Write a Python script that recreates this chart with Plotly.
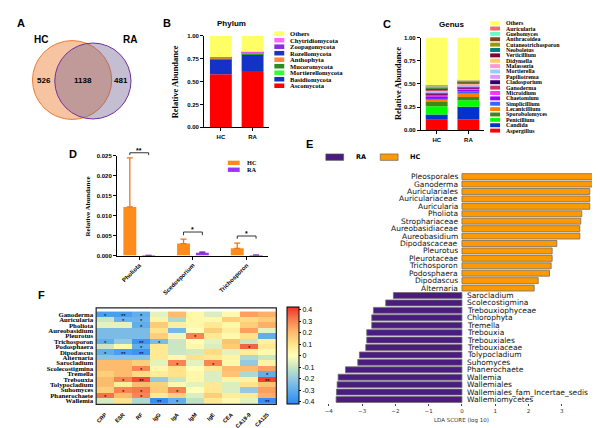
import plotly.graph_objects as go
import numpy as np

W, H = 600, 428
SANS = "Liberation Sans"
SERIF = "Liberation Serif"
MPL = "DejaVu Sans"


def fx(p):
    return p / W


def fy(p):
    return 1 - p / H


# ---------------- data ----------------
# A: Venn
venn_labels = ["HC", "RA"]
venn_counts = [526, 1138, 481]  # HC only, shared, RA only

# B: phylum composition
samples = ["HC", "RA"]
phylum_names = ["Ascomycota", "Basidiomycota", "Mortierellomycota", "Mucoromycota",
                "Anthophyta", "Rozellomycota", "Zoopagomycota", "Chytridiomycota", "Others"]
phylum_HC = [0.580, 0.165, 0.003, 0.010, 0.003, 0.003, 0.002, 0.002, 0.232]
phylum_RA = [0.615, 0.182, 0.005, 0.010, 0.003, 0.003, 0.003, 0.003, 0.176]
phylum_colors = ["#FF0000", "#1432C8", "#33FF33", "#2E8B22", "#FF8C33",
                 "#2233BB", "#8A2BE2", "#FF66FF", "#FFFF66"]

# C: genus composition
genus_names = ["Aspergillus", "Candida", "Penicillium", "Sporobolomyces", "Lecanicillium",
               "Simplicillium", "Chaetomium", "Microidium", "Ganoderma", "Cladosporium",
               "Papiliotrema", "Mortierella", "Malassezia", "Didymella", "Verticillium",
               "Neoboletus", "Cutaneotrichosporon", "Anthracoidea", "Guehomyces",
               "Auricularia", "Others"]
genus_HC = [0.115, 0.055, 0.090, 0.045, 0.035, 0.012, 0.015, 0.010, 0.012, 0.012,
            0.010, 0.008, 0.010, 0.008, 0.006, 0.008, 0.010, 0.006, 0.006, 0.012, 0.515]
genus_RA = [0.120, 0.135, 0.070, 0.035, 0.040, 0.020, 0.020, 0.012, 0.004, 0.015,
            0.010, 0.010, 0.008, 0.008, 0.005, 0.005, 0.008, 0.004, 0.008, 0.003, 0.460]
genus_colors = ["#FF0000", "#0033CC", "#00FF00", "#3A8A1A", "#FF8000",
                "#3366FF", "#9900FF", "#FF33FF", "#CC3366", "#330066",
                "#DD99FF", "#99CCFF", "#FF99CC", "#FFCC66", "#800040",
                "#008080", "#999900", "#8B4513", "#66FFCC", "#FF6666", "#FFFF66"]

# D: differential genera
d_genera = ["Pholiota", "Scedosporium", "Trichosporon"]
d_HC_mean = [0.0122, 0.0030, 0.0018]
d_HC_err = [0.0123, 0.0011, 0.0013]
d_RA_mean = [0.00003, 0.0007, 0.00008]
d_RA_err = [0.00003, 0.0002, 0.00004]
d_sig = ["**", "*", "*"]
d_bracket_top = [0.0258, 0.0059, 0.0049]
d_bracket_foot = [0.0252, 0.0051, 0.0042]

# E: LEfSe
lefse_HC_names = ["Pleosporales", "Ganoderma", "Auriculariales", "Auriculariaceae",
                  "Auricularia", "Pholiota", "Strophariaceae", "Aureobasidiaceae",
                  "Aureobasidium", "Dipodascaceae", "Pleurotus", "Pleurotaceae",
                  "Trichosporon", "Podosphaera", "Dipodascus", "Alternaria"]
lefse_HC_lda = [4.06, 3.99, 3.84, 3.84, 3.84, 3.60, 3.57, 3.54, 3.54, 2.85, 2.71,
                2.71, 2.68, 2.63, 2.29, 2.17]
lefse_RA_names = ["Sarocladium", "Scolecostigmina", "Trebouxiophyceae", "Chlorophyta",
                  "Tremella", "Trebouxia", "Trebouxiales", "Trebouxiaceae",
                  "Tolypocladium", "Suhomyces", "Phanerochaete", "Wallemia",
                  "Wallemiales", "Wallemiales_fam_Incertae_sedis", "Wallemiomycetes"]
lefse_RA_lda = [-2.06, -2.29, -2.66, -2.71, -2.71, -2.86, -2.86, -2.89, -3.08, -3.13,
                -3.50, -3.72, -3.75, -3.77, -3.78]
lda_ticks = [-4, -3, -2, -1, 0, 1, 2, 3, 4]

# F: correlation heatmap
F_rows = ["Ganoderma", "Auricularia", "Pholiota", "Aureobasidium", "Pleurotus",
          "Trichosporon", "Podosphaera", "Dipodascus", "Alternaria", "Sarocladium",
          "Scolecostigmina", "Tremella", "Trebouxia", "Tolypocladium", "Suhomyces",
          "Phanerochaete", "Wallemia"]
F_cols = ["CRP", "ESR", "RF", "IgG", "IgA", "IgM", "IgE", "CEA", "CA19-9", "CA125"]
F_vals = [
    [-0.35, -0.35, -0.30, -0.05, 0.20, 0.03, -0.07, 0.02, 0.25, 0.22],
    [-0.10, -0.28, -0.28, 0.04, -0.15, 0.03, 0.02, 0.15, 0.12, 0.16],
    [-0.05, -0.05, -0.30, 0.16, 0.06, 0.03, 0.08, 0.03, 0.15, 0.22],
    [-0.25, -0.25, -0.25, 0.10, -0.26, 0.00, 0.15, 0.06, 0.25, -0.05],
    [-0.25, -0.25, -0.25, 0.15, -0.03, 0.30, 0.08, 0.02, 0.10, -0.30],
    [-0.30, -0.20, -0.38, -0.25, -0.10, 0.00, -0.05, 0.18, -0.10, 0.05],
    [-0.10, 0.02, -0.30, 0.08, -0.10, 0.03, -0.07, 0.16, 0.35, 0.08],
    [-0.30, -0.35, -0.38, 0.08, -0.10, -0.08, 0.12, -0.05, 0.06, 0.02],
    [-0.22, -0.22, -0.22, 0.08, 0.02, 0.10, 0.08, 0.04, -0.15, -0.10],
    [0.20, 0.20, 0.15, -0.05, 0.30, -0.05, 0.30, 0.03, -0.20, 0.04],
    [0.20, 0.20, 0.30, 0.03, 0.10, 0.00, 0.08, 0.20, 0.20, 0.25],
    [0.15, 0.20, 0.12, 0.07, 0.10, 0.03, -0.07, 0.18, -0.15, -0.30],
    [0.20, 0.30, 0.38, -0.20, -0.10, 0.03, -0.07, 0.04, 0.04, 0.40],
    [0.20, 0.06, 0.20, 0.15, 0.02, -0.05, 0.08, -0.07, 0.10, 0.18],
    [0.15, 0.30, 0.32, 0.16, 0.30, 0.00, 0.08, -0.07, -0.20, 0.25],
    [0.33, 0.20, 0.30, 0.08, 0.15, -0.07, 0.15, 0.06, 0.08, 0.22],
    [-0.08, 0.10, -0.15, -0.40, -0.30, -0.12, 0.08, 0.02, -0.05, -0.40],
]
F_stars = [
    ["*", "**", "*", "", "", "", "", "", "", ""],
    ["", "*", "*", "", "", "", "", "", "", ""],
    ["", "", "*", "", "", "", "", "", "", ""],
    ["", "", "", "", "", "", "", "", "", ""],
    ["", "", "", "", "", "*", "", "", "", ""],
    ["*", "", "**", "*", "", "", "", "", "", ""],
    ["", "", "*", "", "", "", "", "", "*", ""],
    ["*", "**", "**", "", "", "", "", "", "", ""],
    ["", "", "", "", "", "", "", "", "", ""],
    ["", "", "", "", "*", "", "*", "", "", ""],
    ["", "", "*", "", "", "", "", "", "", ""],
    ["", "", "", "", "", "", "", "", "", "*"],
    ["", "*", "**", "", "", "", "", "", "", "**"],
    ["", "", "", "", "", "", "", "", "", ""],
    ["", "*", "*", "", "*", "", "", "", "", ""],
    ["*", "", "*", "", "", "", "", "", "", ""],
    ["", "", "", "**", "*", "", "", "", "", "**"],
]
F_cbar_ticks = [0.4, 0.3, 0.2, 0.1, 0, -0.1, -0.2, -0.3, -0.4]

# ---------------- figure ----------------
fig = go.Figure()
ann = []
shapes = []


def txt(x, y, s, size, family=SANS, bold=True, xanchor="center", yanchor="middle",
        xref="paper", yref="paper", angle=0, color="black", **kw):
    d = dict(x=x, y=y, text=s, showarrow=False, xref=xref, yref=yref,
             xanchor=xanchor, yanchor=yanchor, textangle=angle,
             font=dict(family=family, size=size, color=color,
                       weight="bold" if bold else "normal"))
    d.update(kw)
    ann.append(d)


# Panel letters
for letter, (px, py) in {"A": (9, 12), "B": (157, 12), "C": (379, 13), "D": (62, 145),
                         "E": (300, 135), "F": (30, 288)}.items():
    txt(fx(px), fy(py), letter, 11)

# ---- A: Venn (own axis, 1 unit = 1 px) ----
venn_geom = {"HC": ((60.7, 70.0), 40.0), "RA": ((81.7, 71.0), 38.5)}
venn_fill = {"HC": "rgba(237,125,49,0.45)", "RA": "rgba(110,90,140,0.40)"}
venn_line = {"HC": "#ED7D31", "RA": "#7030A0"}
for g in venn_labels:
    (cx, cy), r = venn_geom[g]
    shapes.append(dict(type="circle", xref="x", yref="y", x0=cx - r, x1=cx + r,
                       y0=cy - r, y1=cy + r, fillcolor=venn_fill[g],
                       line=dict(color=venn_line[g], width=1)))
(hcx, hcy), hr = venn_geom["HC"]
(rax, ray), rr = venn_geom["RA"]
count_x = [((hcx - hr) + (rax - rr)) / 2, ((rax - rr) + (hcx + hr)) / 2,
           ((hcx + hr) + (rax + rr)) / 2]
for xv, c in zip(count_x, venn_counts):
    txt(xv, 70, str(c), 8, xref="x", yref="y")
txt(29, 29, venn_labels[0], 10, xref="x", yref="y")
txt(119, 29, venn_labels[1], 10, xref="x", yref="y")
fig.add_trace(go.Scatter(x=[0], y=[0], mode="markers", marker=dict(opacity=0),
                         hoverinfo="skip", xaxis="x", yaxis="y"))


# ---- B & C: stacked composition bars ----
def stacked(names, hc, ra, colors, xa, ya):
    base_hc = np.concatenate([[0], np.cumsum(hc)[:-1]])
    base_ra = np.concatenate([[0], np.cumsum(ra)[:-1]])
    for i, n in enumerate(names):
        fig.add_trace(go.Bar(x=samples, y=[hc[i], ra[i]], base=[base_hc[i], base_ra[i]],
                             name=n, marker=dict(color=colors[i], line=dict(width=0)),
                             width=0.69, xaxis=xa, yaxis=ya))


stacked(phylum_names, phylum_HC, phylum_RA, phylum_colors, "x2", "y2")
stacked(genus_names, genus_HC, genus_RA, genus_colors, "x3", "y3")

txt(fx(222), fy(13), "Phylum", 8)
txt(fx(444), fy(14), "Genus", 8)
txt(fx(165), fy(72), "Relative Abundance", 8.5, family=SERIF, angle=-90)
txt(fx(390), fy(74), "Relative Abundance", 8.5, family=SERIF, angle=-90)


def manual_legend(names, colors, sw0, sw1, xt, y0, dy, swh, size):
    for k, (n, c) in enumerate(zip(names, colors)):
        yc = y0 + k * dy
        shapes.append(dict(type="rect", xref="paper", yref="paper", x0=fx(sw0), x1=fx(sw1),
                           y0=fy(yc + swh / 2), y1=fy(yc - swh / 2), fillcolor=c,
                           line=dict(width=0)))
        txt(fx(xt), fy(yc), n, size, family=SERIF, xanchor="left")


manual_legend(phylum_names[::-1], phylum_colors[::-1], 265, 275, 279, 23, 6.6, 4.6, 6.6)
manual_legend(genus_names[::-1], genus_colors[::-1], 483, 493, 497, 12.3, 5.45, 4.0, 5.9)

# ---- D: grouped bars with error bars ----
D_ORANGE = "#FF8C1A"
D_PURPLE = "#9933FF"
fig.add_trace(go.Bar(x=d_genera, y=d_HC_mean, name="HC", offset=-0.295, width=0.24,
                     marker=dict(color=D_ORANGE, line=dict(width=0)),
                     error_y=dict(type="data", array=d_HC_err, arrayminus=[0] * 3,
                                  symmetric=False, color="#E8761A", thickness=1.3, width=3),
                     xaxis="x4", yaxis="y4"))
fig.add_trace(go.Bar(x=d_genera, y=d_RA_mean, name="RA", offset=0.055, width=0.24,
                     marker=dict(color=D_PURPLE, line=dict(width=0)),
                     error_y=dict(type="data", array=d_RA_err, arrayminus=[0] * 3,
                                  symmetric=False, color="#6A1FB0", thickness=1.0, width=3),
                     xaxis="x4", yaxis="y4"))
D_YMAX = 0.025
D_DOM = [fy(248), fy(147)]


def dpaper(v):
    return D_DOM[0] + v / D_YMAX * (D_DOM[1] - D_DOM[0])


for i, g in enumerate(d_genera):
    xl, xr = i - 0.175, i + 0.175
    for (a, b, c, d) in [(xl, xl, d_bracket_foot[i], d_bracket_top[i]),
                         (xl, xr, d_bracket_top[i], d_bracket_top[i]),
                         (xr, xr, d_bracket_top[i], d_bracket_foot[i])]:
        shapes.append(dict(type="line", xref="x4", yref="paper", x0=a, x1=b,
                           y0=dpaper(c), y1=dpaper(d), line=dict(color="black", width=0.8)))
    ann.append(dict(x=i, y=dpaper(d_bracket_top[i]), xref="x4", yref="paper",
                    text=d_sig[i], showarrow=False, yanchor="bottom", yshift=-3,
                    font=dict(family=SANS, size=7, color="black", weight="bold")))
txt(fx(77), fy(198), "Relative Abundance", 7, family=SERIF, angle=-90)
for k, (n, c) in enumerate(zip(["HC", "RA"], [D_ORANGE, D_PURPLE])):
    yc = 154 + 7 * k
    shapes.append(dict(type="rect", xref="paper", yref="paper", x0=fx(218), x1=fx(230),
                       y0=fy(yc + 2.2), y1=fy(yc - 2.2), fillcolor=c, line=dict(width=0)))
    txt(fx(235), fy(yc), n, 6.3, family=SERIF, xanchor="left")

# ---- E: LEfSe ----
E_ORANGE = "#FF9900"
E_PURPLE = "#4B1C80"
fig.add_trace(go.Bar(y=lefse_HC_names, x=lefse_HC_lda, orientation="h", name="HC",
                     marker=dict(color=E_ORANGE, line=dict(color="#6E6E6E", width=0.8)),
                     width=0.8, xaxis="x5", yaxis="y5"))
fig.add_trace(go.Bar(y=lefse_RA_names, x=lefse_RA_lda, orientation="h", name="RA",
                     marker=dict(color=E_PURPLE, line=dict(color="#6E6E6E", width=0.8)),
                     width=0.8, xaxis="x5", yaxis="y5"))
for n in lefse_HC_names:
    ann.append(dict(x=0, y=n, xref="x5", yref="y5", text=n, showarrow=False,
                    xanchor="right", xshift=-2,
                    font=dict(family=MPL, size=7.5, color="#111")))
for n in lefse_RA_names:
    ann.append(dict(x=0, y=n, xref="x5", yref="y5", text=n, showarrow=False,
                    xanchor="left", xshift=3,
                    font=dict(family=MPL, size=7.5, color="#111")))
for (n, c, x0, xt) in [("RA", E_PURPLE, 317, 345), ("HC", E_ORANGE, 372, 400)]:
    shapes.append(dict(type="rect", xref="paper", yref="paper", x0=fx(x0), x1=fx(x0 + 18),
                       y0=fy(151.5), y1=fy(145), fillcolor=c,
                       line=dict(color="#555", width=0.6)))
    txt(fx(xt), fy(148), n, 6.5, family=MPL, xanchor="left")
txt(fx(454), fy(415), "LDA SCORE (log 10)", 5.5, family=MPL, bold=False, color="#333")

# ---- F: heatmap ----
F_scale = [[0.0, "#2E86F5"], [0.12, "#56A8EE"], [0.25, "#8FC6E2"], [0.38, "#C9E6C2"],
           [0.5, "#FFFFB8"], [0.62, "#FFE389"], [0.75, "#FDB66A"], [0.88, "#F7794C"],
           [1.0, "#F0302A"]]
fig.add_trace(go.Heatmap(
    z=F_vals, x=F_cols, y=F_rows, colorscale=F_scale, zmin=-0.422, zmax=0.422,
    xaxis="x6", yaxis="y6",
    colorbar=dict(x=fx(278), xanchor="left", xref="paper", xpad=0, ypad=0,
                  y=fy(349.5), yanchor="middle", yref="paper",
                  len=97, lenmode="pixels", thickness=12,
                  outlinewidth=1, outlinecolor="black", tickvals=F_cbar_ticks,
                  ticktext=[("%g" % v) for v in F_cbar_ticks], ticks="outside",
                  ticklen=2, tickcolor="black",
                  tickfont=dict(family=SANS, size=7, color="black"))))
for i, r in enumerate(F_rows):
    for j, c in enumerate(F_cols):
        if F_stars[i][j]:
            ann.append(dict(x=c, y=r, xref="x6", yref="y6", text=F_stars[i][j],
                            showarrow=False, yshift=-1.5,
                            font=dict(family=SANS, size=6, color="black")))
shapes.append(dict(type="rect", xref="x6 domain", yref="y6 domain", x0=0, x1=1, y0=0, y1=1,
                   line=dict(color="#222", width=1.2), fillcolor="rgba(0,0,0,0)"))

# ---------------- axes ----------------
tick_font = dict(family=SANS, size=6, color="black", weight="bold")
axis_common = dict(showgrid=False, zeroline=False, showline=True, linecolor="black",
                   linewidth=1, ticks="outside", ticklen=3, tickwidth=1, tickcolor="black",
                   tickfont=tick_font)

fig.update_layout(
    width=W, height=H, margin=dict(l=0, r=0, t=0, b=0),
    paper_bgcolor="white", plot_bgcolor="rgba(0,0,0,0)",
    barmode="overlay", showlegend=False,
    font=dict(family=SANS, size=7, color="black"),
    xaxis=dict(domain=[0, fx(160)], range=[0, 160], visible=False, fixedrange=True),
    yaxis=dict(domain=[fy(130), 1], range=[130, 0], visible=False, fixedrange=True),
    xaxis2=dict(domain=[fx(194), fx(260)], range=[-0.531, 1.531], anchor="y2", **axis_common),
    yaxis2=dict(domain=[fy(118), fy(25)], range=[0, 1], anchor="x2",
                tickvals=[0, 0.25, 0.5, 0.75, 1.0], tickformat=".2f", **axis_common),
    xaxis3=dict(domain=[fx(413), fx(477)], range=[-0.5, 1.5], anchor="y3", **axis_common),
    yaxis3=dict(domain=[fy(121), fy(27)], range=[0, 1], anchor="x3",
                tickvals=[0, 0.25, 0.5, 0.75, 1.0], tickformat=".2f", **axis_common),
    xaxis4=dict(domain=[fx(106), fx(259)], range=[-0.415, 2.405], anchor="y4",
                tickangle=-45, **axis_common),
    yaxis4=dict(domain=D_DOM, range=[0, D_YMAX], anchor="x4",
                tickvals=[0, 0.005, 0.01, 0.015, 0.02, 0.025], tickformat=".3f", **axis_common),
    xaxis5=dict(domain=[fx(320), fx(589)], range=[-4, 4], anchor="y5", tickvals=lda_ticks,
                showgrid=False, zeroline=False, showline=False, ticks="outside", ticklen=2,
                tickcolor="#444", tickfont=dict(family=MPL, size=5.5, color="#333")),
    yaxis5=dict(domain=[fy(397.8), fy(164.2)], anchor="x5", type="category",
                categoryorder="array", categoryarray=lefse_HC_names + lefse_RA_names,
                range=[len(lefse_HC_names) + len(lefse_RA_names) - 0.5, -0.5], visible=False),
    xaxis6=dict(domain=[fx(85), fx(267)], anchor="y6", tickangle=-45, ticks="",
                tickmode="array", tickvals=F_cols,
                ticklabelstandoff=5, showgrid=False, zeroline=False, showline=False,
                tickfont=dict(family=SANS, size=5.5, color="black", weight="bold")),
    yaxis6=dict(domain=[fy(399), fy(301)], anchor="x6", autorange="reversed", ticks="",
                tickmode="array", tickvals=F_rows,
                showgrid=False, zeroline=False, showline=False, ticklabelstandoff=2,
                tickfont=dict(family=SERIF, size=6.8, color="black", weight="bold")),
    annotations=ann,
    shapes=shapes,
)

fig.write_html("out.html")
